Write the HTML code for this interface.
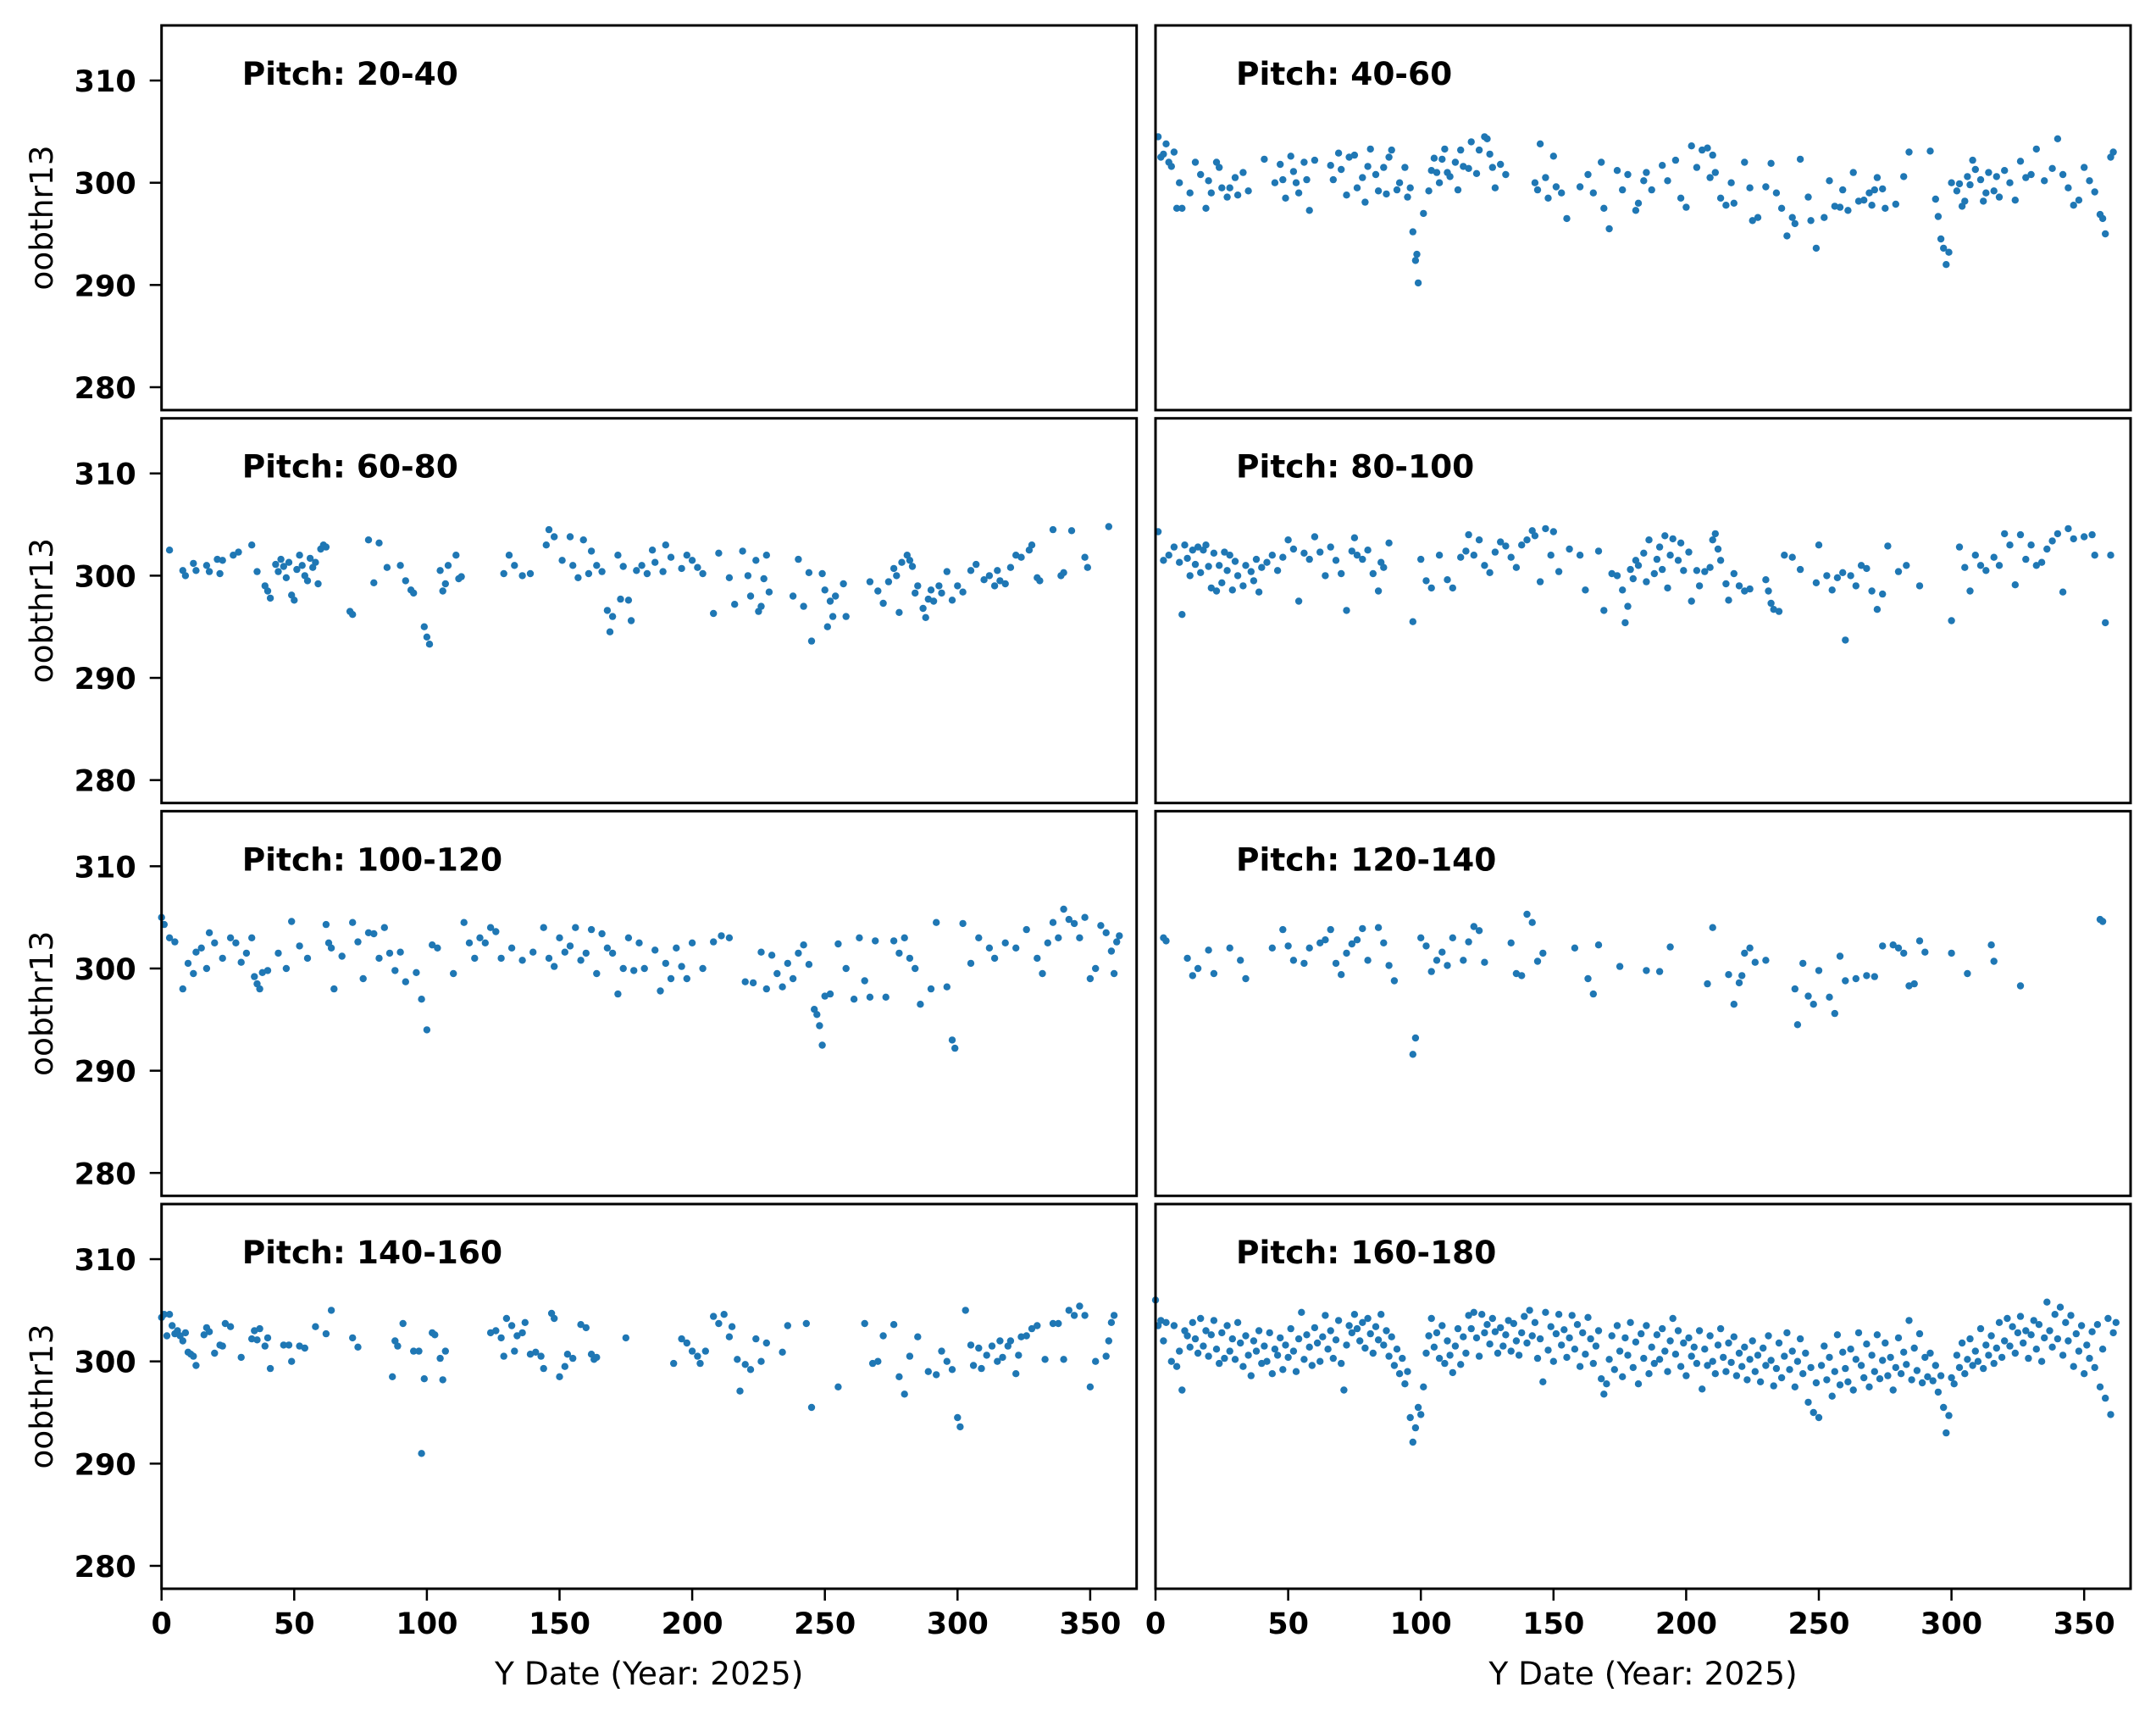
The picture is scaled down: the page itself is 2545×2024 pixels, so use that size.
<!DOCTYPE html>
<html><head><meta charset="utf-8"><title>oobthr13 by pitch</title>
<style>
html,body{margin:0;padding:0;background:#fff;}
svg{display:block;}
text{font-family:"DejaVu Sans","Liberation Sans",sans-serif;fill:#000;}
</style></head>
<body>
<svg id="chart" width="2545" height="2024" viewBox="0 0 2545 2024" xmlns="http://www.w3.org/2000/svg"></svg>
<script>
const yTicks = [280, 290, 300, 310];
const xTicks = [0, 50, 100, 150, 200, 250, 300, 350];
const panelTitles = ["Pitch: 20-40","Pitch: 40-60","Pitch: 60-80","Pitch: 80-100","Pitch: 100-120","Pitch: 120-140","Pitch: 140-160","Pitch: 160-180"];
const p20_40 = [];
const p40_60 = [[1,304.5],[2,302.5],[3,302.8],[4,303.8],[5,302],[6,301.6],[7,303],[8,297.5],[10,297.5],[9,300],[13,299],[15,302],[17,300.8],[19,297.5],[20,300.2],[21,299],[23,302],[24,301.5],[25,299.5],[27,298.6],[28,299.5],[30,300.5],[31,298.8],[33,301],[35,299.2],[41,302.3],[45,300],[47,301.8],[48,300.3],[49,298.5],[51,302.6],[52,301.1],[53,300],[54,299],[56,302],[57,300.3],[58,297.3],[60,302.2],[66,301.7],[67,300.3],[69,302.9],[70,301.3],[72,298.8],[73,302.5],[75,302.7],[76,299.5],[78,300.5],[79,298.1],[80,301.6],[81,303.3],[83,300.8],[84,299.2],[86,301.5],[87,298.9],[88,302.5],[89,303.2],[91,299.3],[92,300],[94,301.5],[95,298.6],[96,299.5],[97,295.2],[98,292.4],[98.5,293],[99,290.2],[101,297],[103,299.2],[104,301.2],[105,302.4],[106,301],[107,300],[108,302.3],[109,303.3],[110,301],[111,300.6],[113,302],[114,299.3],[115,303.2],[116,301.6],[118,301.4],[119,304],[121,300.9],[122,303.2],[124,304.5],[125,304.3],[126,302.8],[127,301.5],[128,299.5],[130,301.8],[132,300.8],[143,300],[144,299.3],[145,303.8],[147,300.5],[148,298.5],[150,302.6],[151,299.6],[153,299],[155,296.5],[160,299.6],[163,300.8],[165,299],[168,302],[169,297.5],[171,295.5],[174,301.2],[176,299.3],[178,300.8],[181,297.3],[182,298],[184,300.2],[185,301],[187,299.3],[191,301.7],[193,300.2],[196,302.2],[198,298.5],[200,297.6],[202,303.6],[204,301.5],[206,303.2],[208,303.4],[209,300.5],[210,302.7],[211,301],[213,298.5],[215,297.8],[217,300],[218,298],[222,302],[224,299.5],[225,296.3],[227,296.6],[230,299.6],[232,301.9],[234,299],[236,297.5],[238,294.8],[240,296.6],[241,296],[243,302.3],[246,298.6],[247,296.3],[249,293.6],[252,296.6],[254,300.2],[256,297.7],[258,297.6],[259,299.3],[261,297.3],[263,301],[265,298.2],[267,298.3],[269,299],[270,297.8],[271,299.3],[272,300.5],[274,299.4],[275,297.5],[279,297.9],[282,300.6],[284,303],[292,303.1],[294,298.4],[295,296.7],[296,294.5],[297,293.6],[298,292],[299,293.2],[300,300],[302,299.2],[303,299.9],[304,297.7],[305,298.2],[306,300.6],[307,299.8],[308,302.2],[309,301.3],[311,300.3],[312,298.2],[313,299],[314,301],[316,299.2],[317,300.6],[318,298.6],[320,301.2],[322,300],[324,298.3],[326,302.1],[328,300.5],[330,300.8],[332,303.3],[335,300.2],[338,301.4],[340,304.3],[342,300.8],[344,299.5],[346,297.8],[348,298.3],[350,301.5],[352,300.2],[354,299.1],[356,296.9],[357,296.5],[358,295],[360,302.5],[361,303]];
const p60_80 = [[3,302.5],[8,300.5],[9,300],[12,301.2],[13,300.5],[17,301],[18,300.4],[21,301.6],[22,300.2],[23,301.5],[27,302],[29,302.3],[34,303],[36,300.4],[39,299],[40,298.5],[41,297.8],[43,301.1],[44,300.4],[45,301.6],[46,300.9],[47,299.8],[48,301.3],[49,298.1],[50,297.6],[51,300.6],[52,302],[53,301],[54,300],[55,299.5],[56,301.7],[57,300.8],[58,301.3],[59,299.2],[60,302.6],[61,303],[62,302.8],[71,296.5],[72,296.2],[78,303.5],[80,299.3],[82,303.2],[85,300.8],[90,301],[92,299.5],[94,298.6],[95,298.3],[99,295],[100,294],[101,293.3],[105,300.5],[106,298.5],[107,299.2],[108,301],[111,302],[112,299.7],[113,299.9],[129,300.2],[131,302],[133,301],[136,300],[139,300.2],[145,303],[146,304.5],[148,303.8],[151,301.5],[154,303.8],[155,301],[157,299.8],[159,303.5],[161,300.2],[162,302.4],[164,301],[166,300.4],[168,296.6],[169,294.5],[170,296],[172,302],[173,297.7],[174,300.9],[176,297.6],[177,295.6],[179,300.5],[181,301],[183,300.2],[185,302.5],[186,301.3],[189,300.4],[190,303],[192,301.8],[196,300.7],[198,302],[200,301.5],[202,300.8],[204,300.2],[208,296.3],[210,302.2],[214,299.8],[216,297.2],[219,302.4],[221,300],[222,298],[224,301.5],[225,296.5],[226,297],[227,299.7],[228,302],[229,298.4],[238,298],[240,301.6],[242,297],[244,300.3],[245,293.6],[249,300.2],[250,298.6],[251,295],[252,297.5],[253,296],[254,298],[257,299.2],[258,296],[267,299.4],[270,298.5],[272,297.3],[274,299.4],[276,300.7],[277,300],[278,296.4],[279,301.3],[281,302],[282,301.5],[283,300.9],[284,298.3],[285,299],[287,296.8],[288,295.9],[289,297.7],[290,298.6],[291,297.5],[293,299],[294,298.3],[296,300.4],[298,297.6],[300,299],[302,298.4],[305,300.5],[307,301.1],[310,299.6],[312,300],[314,299],[315,300.5],[316,299.5],[318,299.2],[320,300.8],[322,302],[324,301.8],[327,302.5],[328,303],[330,299.8],[331,299.5],[336,304.5],[339,300],[340,300.3],[343,304.4],[348,301.8],[349,300.8],[357,304.8]];
const p80_100 = [[1,304.3],[3,301.5],[5,302],[7,302.8],[9,301.3],[10,296.2],[11,303],[12,301.7],[13,300],[14,302.5],[15,301.1],[16,302.8],[17,300.3],[18,302.5],[19,303],[20,300.9],[21,298.8],[22,302.2],[23,298.5],[24,301],[25,299.3],[26,302.3],[27,300.5],[28,302],[29,298.6],[30,301.4],[31,300],[33,299],[34,301],[36,300.4],[37,299.5],[38,301.6],[39,298.4],[40,300.8],[42,301.3],[44,302],[46,300.5],[48,301.8],[50,303.5],[52,302.6],[54,297.5],[56,302.2],[58,301.6],[60,303.8],[62,302.3],[64,300],[66,302.8],[68,301.5],[70,300.2],[72,296.6],[74,302.4],[75,303.7],[76,302],[78,301.6],[80,302.5],[82,300.2],[84,298.5],[85,301.3],[86,300.8],[88,303.2],[97,295.5],[100,301.6],[102,299.5],[104,298.8],[107,302],[110,299.6],[112,298.8],[115,301.8],[117,302.4],[118,304],[120,302],[122,303.5],[124,301],[126,300.3],[128,302.3],[130,303.3],[132,302.9],[134,301.8],[136,300.8],[138,303],[140,303.5],[142,304.4],[143,303.9],[145,299.4],[147,304.6],[149,302],[150,304.3],[152,300.4],[156,302.6],[160,302],[162,298.6],[167,302.4],[169,296.6],[172,300.2],[174,300],[176,298.6],[177,295.4],[178,297],[179,300.6],[180,299.7],[181,301.5],[182,301],[184,302.2],[185,299.4],[186,303.5],[188,300.2],[189,301.6],[190,302.8],[191,300.6],[192,303.9],[193,298.8],[194,302],[195,303.6],[197,301.5],[198,303.2],[199,300.5],[201,302.3],[202,297.5],[204,300.5],[205,299],[207,300.4],[209,300.8],[210,303.5],[211,304.1],[212,302.6],[213,301.5],[215,299.2],[216,297.6],[218,300.2],[220,299],[222,298.5],[224,298.7],[230,299.6],[231,298.5],[232,297.3],[233,296.7],[235,296.5],[237,302],[240,301.8],[243,300.6],[249,299.3],[250,303],[253,300],[255,298.6],[257,299.8],[259,300.3],[260,293.7],[262,300],[264,299],[266,301],[268,300.7],[270,298.5],[272,296.7],[274,298.2],[276,302.9],[280,300.4],[283,301],[288,299],[300,295.6],[303,302.8],[305,300.8],[307,298.5],[309,302],[311,301],[313,300.5],[316,301.8],[318,301],[320,304.1],[322,303],[324,299.1],[326,304],[328,301.6],[330,303],[332,301],[334,301.3],[336,302.6],[338,303.4],[340,304.1],[342,298.4],[344,304.6],[346,303.6],[350,303.8],[353,304],[354,302],[358,295.4],[360,302]];
const p100_120 = [[0,305],[1,304.3],[3,303],[5,302.6],[8,298],[10,300.5],[12,299.5],[13,301.6],[15,302],[17,300],[18,303.5],[20,302.5],[23,301],[26,303],[28,302.5],[30,300.6],[32,301.5],[34,303],[35,299.2],[36,298.5],[37,298],[38,299.6],[40,299.8],[44,301.5],[47,300],[49,304.6],[52,302.2],[55,301],[62,304.3],[63,302.5],[64,302],[65,298],[68,301.2],[72,304.5],[74,302.6],[76,299],[78,303.5],[80,303.4],[82,301],[84,304],[86,301.5],[88,299.8],[90,301.6],[92,298.7],[96,299.6],[98,297],[100,294],[102,302.3],[104,302],[110,299.5],[114,304.5],[116,302.5],[118,301],[120,303],[122,302.5],[124,304],[126,303.6],[128,301],[132,302],[136,300.8],[140,301.6],[144,304],[146,301],[148,300.2],[150,303],[152,301.6],[154,302.2],[156,304],[158,300.8],[160,301.5],[162,303.8],[164,299.5],[166,303.4],[168,302],[170,301.5],[172,297.5],[174,300],[176,303],[178,299.8],[180,302.5],[182,300],[186,301.8],[188,297.8],[190,300.5],[192,299],[194,302],[196,300.2],[198,299],[200,302.5],[204,300],[208,302.6],[211,303.2],[214,303],[220,298.7],[223,298.6],[226,301.6],[228,298],[230,301.3],[232,299.5],[234,298.2],[236,300.5],[238,299],[240,301.5],[242,302.3],[244,300.4],[246,296],[247,295.5],[248,294.4],[249,292.5],[250,297.3],[252,297.5],[255,302.4],[258,300],[261,297],[263,303],[265,298.8],[267,297.2],[269,302.7],[273,297.2],[276,302.7],[278,301.5],[280,303],[282,301],[284,300],[286,296.5],[290,298],[292,304.5],[296,298.2],[298,293],[299,292.2],[302,304.4],[305,300.5],[308,303],[312,302],[314,301],[318,302.5],[322,302],[326,303.8],[330,301],[332,299.5],[334,302.5],[336,304.5],[338,303],[340,305.8],[342,304.8],[344,304.4],[346,303],[348,305],[350,299],[352,300],[354,304.2],[356,303.5],[358,301.7],[359,299.5],[360,302.6],[361,303.2]];
const p120_140 = [[3,303],[4,302.7],[12,301],[14,299.3],[16,300],[20,301.8],[22,299.5],[28,302],[32,300.8],[34,299],[44,302],[48,303.8],[50,302.2],[52,300.8],[56,300.5],[58,302],[62,302.5],[64,302.8],[66,303.8],[68,300.5],[70,299.4],[72,301.5],[74,302.4],[76,302.8],[78,303.9],[80,300.8],[84,304],[86,302.5],[88,300.3],[90,298.8],[97,291.6],[98,293.2],[100,303],[102,302.2],[104,299.7],[106,300.8],[108,301.6],[110,300.3],[112,303],[116,300.8],[118,302.6],[120,304.1],[122,303.7],[124,300.6],[134,302.5],[136,299.5],[138,299.3],[140,305.3],[142,304.5],[144,300.7],[146,301.5],[158,302],[163,299],[165,297.5],[167,302.3],[175,300.2],[185,299.8],[190,299.7],[194,302.1],[208,298.5],[210,304],[216,299.4],[218,296.5],[220,298.6],[221,299.3],[222,301.5],[224,302],[226,300.6],[230,300.8],[241,298],[242,294.5],[244,300.5],[246,297.3],[248,296.5],[250,299.8],[254,297.2],[256,295.6],[258,301.2],[260,298.8],[264,299],[268,299.3],[271,299.2],[274,302.2],[278,302.3],[280,302],[282,301.5],[284,298.3],[286,298.5],[288,302.7],[290,301.6],[300,301.5],[306,299.5],[315,302.3],[316,300.7],[326,298.3],[356,304.8],[357,304.6]];
const p140_160 = [[0,304.3],[1,304.6],[2,302.5],[3,304.6],[4,303.5],[5,302.7],[6,303],[7,302.5],[8,302],[9,302.8],[10,300.9],[11,300.7],[12,300.5],[13,299.6],[16,302.6],[17,303.3],[18,302.9],[20,300.8],[22,301.6],[23,301.5],[24,303.7],[26,303.4],[30,300.4],[34,302.2],[35,303],[36,302.1],[37,303.2],[39,301.5],[40,302.3],[41,299.3],[46,301.6],[48,301.6],[49,300],[52,301.5],[54,301.3],[58,303.4],[62,302.7],[64,305],[72,302.3],[74,301.4],[87,298.5],[88,302],[89,301.5],[91,303.7],[95,301],[97,301],[98,291],[99,298.3],[102,302.8],[103,302.6],[105,300.3],[106,298.2],[107,301],[124,302.8],[126,303],[128,302.3],[129,300.5],[130,304.2],[132,303.5],[133,301],[134,302.5],[136,302.8],[137,303.8],[139,300.7],[141,300.9],[143,300.5],[144,299.3],[147,304.7],[148,304.2],[150,298.5],[152,299.5],[153,300.7],[155,300.3],[158,303.6],[160,303.3],[162,300.7],[163,300.2],[164,300.4],[175,302.3],[193,299.8],[196,302.2],[198,301.8],[200,301],[202,300.5],[203,299.8],[205,301],[208,304.4],[210,303.7],[212,304.6],[214,302.4],[215,303.4],[217,300.2],[218,297.1],[220,299.7],[222,299.2],[224,302.2],[226,300],[228,301.8],[234,300.9],[236,303.5],[243,303.7],[245,295.5],[255,297.5],[265,303.7],[268,299.8],[270,300],[272,302.5],[276,303.6],[278,298.5],[280,296.8],[282,300.5],[285,302.4],[289,299],[292,298.7],[294,301],[296,300],[298,299.2],[300,294.5],[301,293.6],[303,305],[305,301.6],[306,299.6],[308,301.3],[309,299.3],[311,300.6],[313,301.5],[315,300],[316,302],[317,300.4],[319,301.5],[320,302],[322,298.8],[323,300.6],[324,302.4],[326,302.5],[328,303.2],[330,303.5],[333,300.2],[336,303.7],[338,303.7],[340,300.2],[342,305],[344,304.5],[346,305.4],[348,304.5],[350,297.5],[352,300],[356,300.5],[357,302],[358,303.8],[359,304.5]];
const p160_180 = [[0,306],[1,303.5],[2,304],[3,302],[4,303.8],[6,300],[7,303.5],[8,299.5],[9,301],[10,297.2],[11,303],[12,302.5],[13,301.4],[14,303.8],[15,302.2],[16,300.8],[17,304.2],[18,301.5],[19,303],[20,300.5],[21,302.6],[22,304],[23,301.2],[24,299.8],[25,302.8],[26,300.3],[27,303.5],[28,301],[29,302.2],[30,300.2],[31,303.8],[32,301.8],[33,299.5],[34,302.5],[35,300.6],[36,298.6],[37,302],[38,301],[39,303],[40,299.8],[41,301.5],[42,300],[43,302.8],[44,298.8],[45,301.2],[46,300.6],[47,302.3],[48,299.2],[49,301.6],[50,300.4],[51,303.2],[52,301],[53,299],[54,302.2],[55,304.8],[56,300.2],[57,302.6],[58,301.4],[59,299.6],[60,303.3],[61,301.8],[62,300],[63,302.4],[64,304.5],[65,301.2],[66,303],[67,300.3],[68,302.1],[69,304],[70,299.8],[71,297.2],[72,301.6],[73,303.5],[74,302.8],[75,304.6],[76,303.2],[77,302],[78,303.8],[79,301.3],[80,304.2],[81,302.7],[82,300.8],[83,303.4],[84,302.1],[85,304.6],[86,301.6],[87,303],[88,300.5],[89,302.4],[90,299.6],[91,301.2],[92,298.8],[93,300.3],[94,297.8],[95,299],[96,294.5],[97,292.1],[98,293.5],[99,295.5],[100,294.8],[101,297.5],[102,300.8],[103,302.5],[104,304.2],[105,301.4],[106,302.8],[107,300.3],[108,303.5],[109,299.8],[110,302],[111,300.6],[112,298.9],[113,301.5],[114,303.2],[115,299.7],[116,302.4],[117,300.8],[118,304.5],[119,303.2],[120,304.8],[121,302.3],[122,300.5],[123,304.6],[124,302.8],[125,303.6],[126,301.7],[127,304.2],[128,302.9],[129,300.8],[130,303.3],[131,301.5],[132,302.6],[133,304],[134,301],[135,303.7],[136,302],[137,300.6],[138,302.8],[139,304.4],[140,301.8],[141,305],[142,302.5],[143,303.8],[144,300.3],[145,302.2],[146,298],[147,304.8],[148,301.1],[149,303.4],[150,300],[151,302.7],[152,304.6],[153,301.6],[154,303.1],[155,300.4],[156,302.3],[157,304.5],[158,301.2],[159,303.6],[160,299.5],[161,302.8],[162,300.7],[163,304.3],[164,302.2],[165,299.8],[166,301.5],[167,303],[168,298.3],[169,296.8],[170,297.8],[171,300.2],[172,302.5],[173,299.2],[174,303.5],[175,301],[176,298.5],[177,302.3],[178,300.6],[179,303.8],[180,299.4],[181,301.9],[182,297.8],[183,302.7],[184,300.3],[185,303.5],[186,298.8],[187,301.4],[188,299.8],[189,302.6],[190,300.2],[191,303.2],[192,301],[193,299],[194,302],[195,304.2],[196,300.7],[197,303],[198,299.5],[199,301.8],[200,298.6],[201,302.3],[202,300.5],[203,301.4],[204,299.8],[205,303],[206,297.3],[207,301.2],[208,299.6],[209,302.5],[210,300],[211,298.8],[212,301.6],[213,303.2],[214,300.4],[215,299],[216,301.8],[217,299.9],[218,302.4],[219,298.6],[220,300.8],[221,299.5],[222,301.4],[223,298.2],[224,300.2],[225,302],[226,299],[227,300.6],[228,298],[229,301.3],[230,299.6],[231,302.5],[232,300.1],[233,297.6],[234,299.3],[235,301.8],[236,298.4],[237,300.5],[238,302.8],[239,299.2],[240,301],[241,297.5],[242,300],[243,302.2],[244,298.8],[245,300.8],[246,296],[247,299.4],[248,295],[249,297.9],[250,294.5],[251,299.6],[252,301.5],[253,298.2],[254,300.4],[255,296.6],[256,299],[257,302.6],[258,297.7],[259,300.9],[260,299.3],[261,298],[262,301.2],[263,297.2],[264,300.2],[265,302.8],[266,299.6],[267,298.4],[268,301.7],[269,297.5],[270,300.6],[271,299],[272,302.6],[273,298.3],[274,300.1],[275,301.8],[276,298.6],[277,300.4],[278,297.2],[279,299.4],[280,302.3],[281,298.8],[282,300.9],[283,299.7],[284,304],[285,298.2],[286,301.3],[287,299.1],[288,302.7],[289,297.9],[290,300.4],[291,298.5],[292,300.8],[293,298.1],[294,299.6],[295,297],[296,298.6],[297,295.5],[298,293],[299,294.7],[300,298.4],[301,297.8],[302,300.6],[303,299.4],[304,301.8],[305,298.8],[306,300.2],[307,302.2],[308,299.6],[309,301],[310,300],[311,303.2],[312,299.3],[313,301.6],[314,300.6],[315,302.5],[316,299.8],[317,301.3],[318,303.8],[319,300.4],[320,302],[321,304.2],[322,301.5],[323,303.4],[324,300.8],[325,302.8],[326,304.4],[327,301.8],[328,303],[329,300.3],[330,302.6],[331,304],[332,301.2],[333,303.6],[334,300],[335,302.3],[336,305.8],[337,303],[338,301.4],[339,304.6],[340,302.2],[341,305.3],[342,300.6],[343,303.8],[344,302],[345,304.5],[346,299.5],[347,302.7],[348,301],[349,303.5],[350,298.8],[351,301.6],[352,300.3],[353,302.9],[354,299.4],[355,303.6],[356,297.5],[357,301.2],[358,296.4],[359,304.2],[360,294.8],[361,302.8],[362,303.8]];

const panelData = [p20_40, p40_60, p60_80, p80_100, p100_120, p120_140, p140_160, p160_180];

const NS = "http://www.w3.org/2000/svg";
const svg = document.getElementById("chart");
const colX = [190.7, 1364];
const rowY = [30, 493.7, 957.3, 1421];
const PW = 1151, PH = 454;
const X_MIN = 0, X_MAX = 367.5, Y_MIN = 277.76, Y_MAX = 315.39;

function mk(tag, attrs, parent) {
  const e = document.createElementNS(NS, tag);
  for (const k in attrs) e.setAttribute(k, attrs[k]);
  (parent || svg).appendChild(e);
  return e;
}
function xScale(x0, d) { return x0 + (d - X_MIN) / (X_MAX - X_MIN) * PW; }
function yScale(y0, v) { return y0 + (Y_MAX - v) / (Y_MAX - Y_MIN) * PH; }

for (let i = 0; i < 8; i++) {
  const c = i % 2, r = Math.floor(i / 2);
  const x0 = colX[c], y0 = rowY[r];
  const g = mk("g", {});
  
  

  const pts = mk("g", {}, g);
  
  
  const data = panelData[i];
  for (const p of data) {
    const dot = mk("circle", {cx: xScale(x0, p[0]).toFixed(1), cy: yScale(y0, p[1]).toFixed(1), r: 4.2, fill: "#1f77b4"}, pts);
    
    
  }

  const frame = mk("rect", {x: x0, y: y0, width: PW, height: PH, fill: "none", stroke: "#000", "stroke-width": 3}, g);
  
  

  const t = mk("text", {x: x0 + 95, y: y0 + 70, "font-size": 37.5, "font-weight": "bold"}, g);
  t.textContent = panelTitles[i];
  
  

  if (c === 0) {
    for (const v of yTicks) {
      const yy = yScale(y0, v);
      const tk = mk("line", {x1: x0 - 14, x2: x0, y1: yy, y2: yy, stroke: "#000", "stroke-width": 2.5}, g);
      
      
      const lb = mk("text", {x: x0 - 30, y: yy + 13, "font-size": 35, "font-weight": "bold", "text-anchor": "end"}, g);
      lb.textContent = v;
      
      
    }
    const yl = mk("text", {x: 0, y: 0, "font-size": 37.5, "text-anchor": "middle", transform: "translate(62," + (y0 + PH / 2) + ") rotate(-90)"}, g);
    yl.textContent = "oobthr13";
    
    
  }
  if (r === 3) {
    for (const d of xTicks) {
      const xx = xScale(x0, d);
      const tk = mk("line", {x1: xx, x2: xx, y1: y0 + PH, y2: y0 + PH + 14, stroke: "#000", "stroke-width": 2.5}, g);
      
      
      const lb = mk("text", {x: xx, y: y0 + PH + 53, "font-size": 35, "font-weight": "bold", "text-anchor": "middle"}, g);
      lb.textContent = d;
      
      
    }
    const xl = mk("text", {x: x0 + PW / 2, y: 1988, "font-size": 37.5, "text-anchor": "middle"}, g);
    xl.textContent = "Y Date (Year: 2025)";
    
    
  }
}
</script>
</body></html>
